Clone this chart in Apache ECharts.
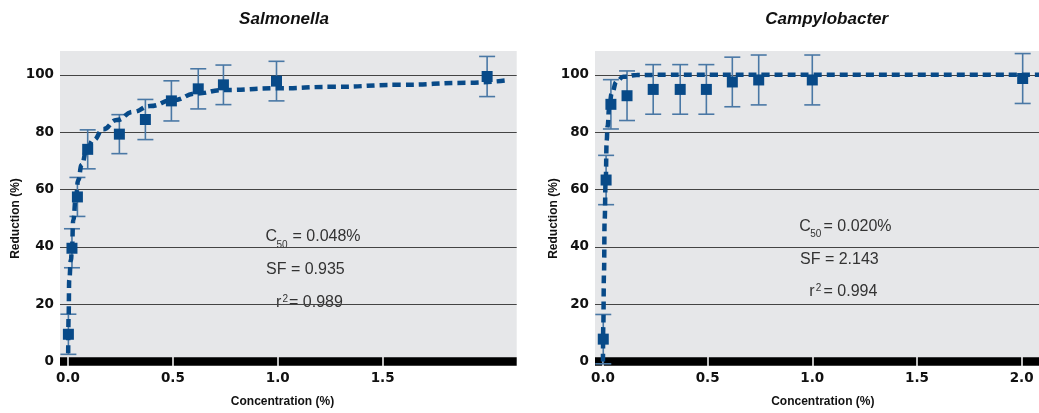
<!DOCTYPE html>
<html>
<head>
<meta charset="utf-8">
<script src="https://cdn.jsdelivr.net/npm/echarts@6/dist/echarts.min.js"></script>
<style>
  html, body { margin: 0; padding: 0; background: #ffffff; }
  #chart { width: 1039px; height: 413px; }
</style>
</head>
<body>
<div id="chart"></div>
<script>
// Salmonella: concentration (%), mean reduction (%), standard error (±)
const salConc      = [0.002, 0.019, 0.045, 0.094, 0.245, 0.369, 0.493, 0.621, 0.741, 0.994, 1.998];
const salReduction = [9.5, 39.5, 57.4, 74.0, 79.3, 84.4, 90.9, 95.1, 96.5, 97.8, 99.4];
const salError     = [7.0, 6.8, 6.8, 6.8, 6.8, 7.0, 7.0, 7.0, 6.9, 6.9, 7.0];
// Salmonella fitted dose-response curve
const salFitConc      = [0.001, 0.003, 0.006, 0.014, 0.019, 0.025, 0.038, 0.049, 0.065, 0.089, 0.121, 0.168, 0.232, 0.311, 0.391, 0.502, 0.613, 0.740, 0.995, 1.265, 1.582, 1.900, 2.084];
const salFitReduction = [2.9, 15.6, 28.4, 35.4, 39.5, 49.3, 57.5, 63.3, 68.5, 73.7, 77.2, 81.0, 84.2, 87.1, 89.1, 91.2, 93.5, 94.7, 95.3, 95.8, 96.5, 97.2, 98.0];

// Campylobacter: concentration (%), mean reduction (%), standard error (±)
const campConc      = [0.0015, 0.015, 0.038, 0.115, 0.240, 0.369, 0.494, 0.618, 0.744, 1.000, 2.005];
const campReduction = [7.8, 63.3, 89.7, 92.7, 94.9, 94.9, 94.9, 97.5, 98.2, 98.2, 98.7];
const campError     = [8.6, 8.6, 8.6, 8.65, 8.65, 8.65, 8.65, 8.65, 8.7, 8.7, 8.7];
// Campylobacter fitted dose-response curve
const campFitConc      = [0.000, 0.0015, 0.005, 0.008, 0.013, 0.018, 0.022, 0.030, 0.042, 0.065, 0.097, 0.161, 0.300, 1.000, 2.083];
const campFitReduction = [0.0, 12.1, 30.8, 49.3, 63.3, 77.2, 82.0, 88.5, 93.5, 97.6, 99.3, 99.9, 100, 100, 100];

// Tick labels
const salXTicks  = [0, 0.5, 1, 1.5];
const campXTicks = [0, 0.5, 1, 1.5, 2];
const yTicks     = [0, 20, 40, 60, 80, 100];

const MARK = '#084a88';
const ERR = '#4a78a5';
const TICK_FONT = { fontFamily: 'DejaVu Sans', fontWeight: 'bold', fontSize: 13.5, color: '#111' };

function zip(a, b) { return a.map((v, i) => [v, b[i]]); }
function errRows(xs, ys, es) { return xs.map((x, i) => [x, ys[i] - es[i], ys[i] + es[i]]); }

function renderErrorBar(params, api) {
  const lo = api.coord([api.value(0), api.value(1)]);
  const hi = api.coord([api.value(0), api.value(2)]);
  const hw = 8;
  const style = { stroke: ERR, lineWidth: 1.6 };
  return {
    type: 'group',
    children: [
      { type: 'line', shape: { x1: hi[0], y1: hi[1], x2: lo[0], y2: lo[1] }, style },
      { type: 'line', shape: { x1: hi[0] - hw, y1: hi[1], x2: hi[0] + hw, y2: hi[1] }, style },
      { type: 'line', shape: { x1: lo[0] - hw, y1: lo[1], x2: lo[0] + hw, y2: lo[1] }, style }
    ]
  };
}

function xAxesFor(gridIndex, min, max, ticks) {
  return [
    {
      type: 'value', gridIndex, min, max, position: 'bottom',
      axisLine: { show: true, lineStyle: { color: '#000', width: 8.5, cap: 'butt' } },
      axisTick: { show: true, customValues: ticks, length: 4.5, lineStyle: { color: '#fff', width: 1.5, cap: 'butt' } },
      axisLabel: Object.assign({ customValues: ticks, margin: 10, formatter: v => v.toFixed(1) }, TICK_FONT),
      splitLine: { show: false }
    },
    {
      type: 'value', gridIndex, min, max, position: 'bottom',
      axisLine: { show: false },
      axisTick: { show: true, inside: true, customValues: ticks, length: 4.5, lineStyle: { color: '#fff', width: 1.5, cap: 'butt' } },
      axisLabel: { show: false },
      splitLine: { show: false }
    }
  ];
}

function yAxisFor(gridIndex) {
  return {
    type: 'value', gridIndex, min: 0, max: 108.3, interval: 20,
    axisLine: { show: false },
    axisTick: { show: false },
    axisLabel: Object.assign({ customValues: yTicks, margin: 6 }, TICK_FONT),
    splitLine: { show: true, showMinLine: false, showMaxLine: false, lineStyle: { color: '#444', width: 1.2 } }
  };
}

function seriesFor(axisIdx, conc, red, err, fitX, fitY) {
  const ax = { xAxisIndex: axisIdx, yAxisIndex: axisIdx / 2 };
  return [
    Object.assign({
      type: 'custom', z: 2, silent: true,
      renderItem: renderErrorBar,
      encode: { x: 0, y: [1, 2] },
      data: errRows(conc, red, err)
    }, ax),
    Object.assign({
      type: 'line', z: 3, silent: true, showSymbol: false,
      smooth: true, smoothMonotone: 'x',
      lineStyle: { color: MARK, width: 4.5, type: [8, 5], cap: 'butt' },
      data: zip(fitX, fitY)
    }, ax),
    Object.assign({
      type: 'scatter', z: 4, silent: true,
      symbol: 'rect', symbolSize: 11,
      itemStyle: { color: MARK, opacity: 1 },
      data: zip(conc, red)
    }, ax)
  ];
}

function txt(x, y, text, opts) {
  return {
    type: 'text', x, y, silent: true,
    rotation: (opts && opts.rotation) || 0,
    style: Object.assign({
      text, fill: '#333', fontFamily: 'Liberation Sans', fontSize: 16,
      align: 'left', verticalAlign: 'middle'
    }, opts && opts.style)
  };
}

const boldAxis = { fontWeight: 'bold', fontSize: 12, fill: '#111', align: 'center' };
const titleFont = { fontWeight: 'bold', fontStyle: 'italic', fontSize: 17, fill: '#111', align: 'center' };
const sub = { fontSize: 10 };

const option = {
  animation: false,
  backgroundColor: '#ffffff',
  grid: [
    { left: 60, top: 51, width: 456.7, height: 310.5, show: true, backgroundColor: '#e6e7e9', borderWidth: 0, containLabel: false, outerBoundsMode: 'none' },
    { left: 595, top: 51, width: 444, height: 310.5, show: true, backgroundColor: '#e6e7e9', borderWidth: 0, containLabel: false, outerBoundsMode: 'none' }
  ],
  xAxis: [].concat(
    xAxesFor(0, -0.038, 2.139, salXTicks),
    xAxesFor(1, -0.038, 2.083, campXTicks)
  ),
  yAxis: [yAxisFor(0), yAxisFor(1)],
  series: [].concat(
    seriesFor(0, salConc, salReduction, salError, salFitConc, salFitReduction),
    seriesFor(2, campConc, campReduction, campError, campFitConc, campFitReduction)
  ),
  graphic: [
    // panel titles
    txt(284, 19, 'Salmonella', { style: titleFont }),
    txt(826.7, 19, 'Campylobacter', { style: titleFont }),
    // axis names
    txt(15.3, 218.5, 'Reduction (%)', { rotation: Math.PI / 2, style: boldAxis }),
    txt(553.3, 218.5, 'Reduction (%)', { rotation: Math.PI / 2, style: boldAxis }),
    txt(282.5, 401.7, 'Concentration (%)', { style: boldAxis }),
    txt(822.8, 401.7, 'Concentration (%)', { style: boldAxis }),
    // Salmonella fit statistics
    txt(265.5, 237, 'C'),
    txt(276.5, 245, '50', { style: sub }),
    txt(292.5, 237, '= 0.048%'),
    txt(266, 269.7, 'SF = 0.935'),
    txt(276, 302.5, 'r'),
    txt(282.5, 299.5, '2', { style: sub }),
    txt(289, 302.5, '= 0.989'),
    // Campylobacter fit statistics
    txt(799.3, 226.7, 'C'),
    txt(810.3, 234.2, '50', { style: sub }),
    txt(823.5, 226.7, '= 0.020%'),
    txt(800, 259.7, 'SF = 2.143'),
    txt(809.3, 291.2, 'r'),
    txt(815.8, 288.2, '2', { style: sub }),
    txt(823.5, 291.2, '= 0.994')
  ]
};

const chart = echarts.init(document.getElementById('chart'), null, { renderer: 'canvas' });
chart.setOption(option);
</script>
</body>
</html>
